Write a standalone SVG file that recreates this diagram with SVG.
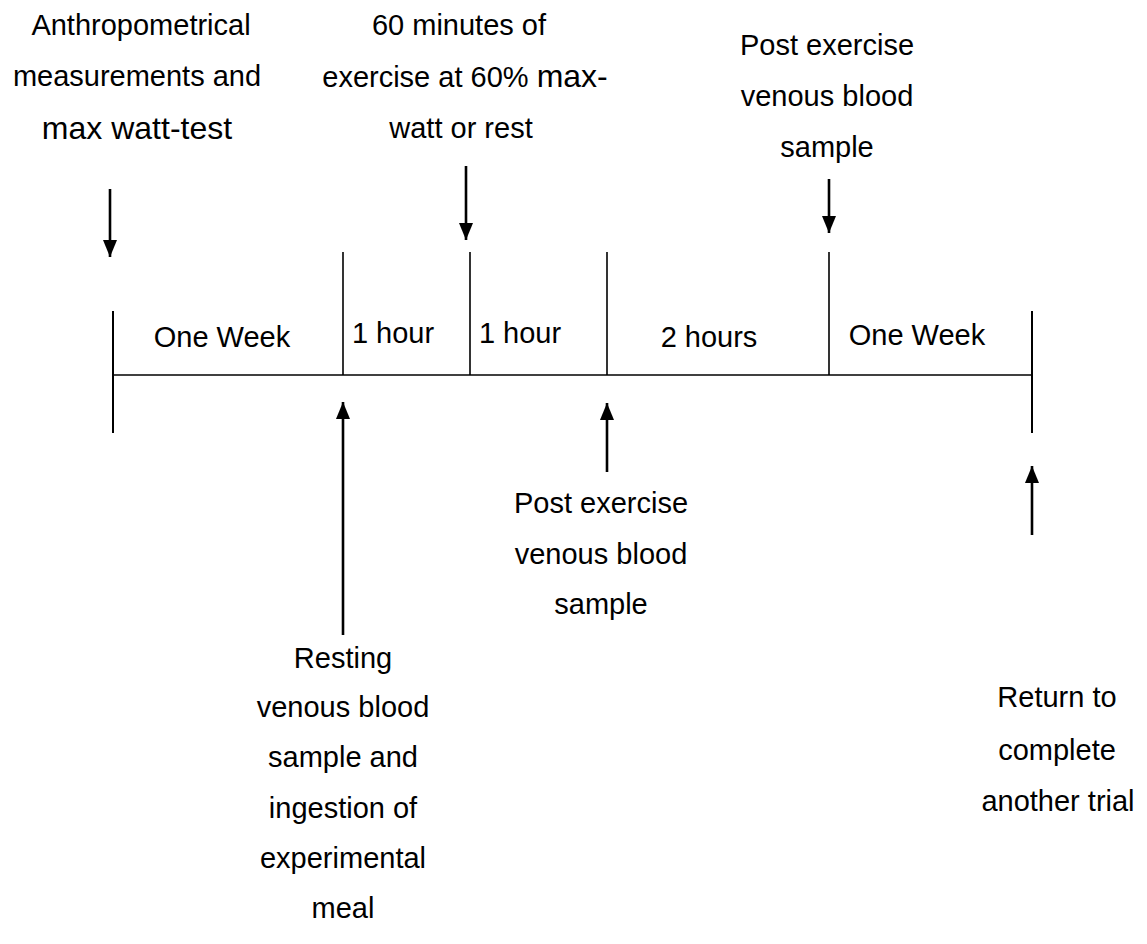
<svg xmlns="http://www.w3.org/2000/svg" width="1147" height="944" viewBox="0 0 1147 944">
<style>
text{font-family:"Liberation Sans",Arial,sans-serif;font-size:29px;fill:#000;text-anchor:middle}
.big{font-size:32px}
.axis{stroke:#000;stroke-width:1.6;fill:none}
.end{stroke:#000;stroke-width:2;fill:none}
.arr{stroke:#000;stroke-width:2.6;fill:none;marker-end:url(#ah)}
</style>
<defs>
<marker id="ah" markerUnits="userSpaceOnUse" markerWidth="16" markerHeight="20" refX="17" refY="7" orient="auto">
<path d="M0,0 L17,7 L0,14 Z" fill="#000"/>
</marker>
</defs>
<rect width="1147" height="944" fill="#fff"/>
<g id="timeline">
<line class="axis" x1="113" y1="375" x2="1032" y2="375"/>
<line class="end" x1="113" y1="311" x2="113" y2="433"/>
<line class="end" x1="1032" y1="311" x2="1032" y2="433"/>
<line class="axis" x1="343" y1="252" x2="343" y2="375"/>
<line class="axis" x1="470" y1="252" x2="470" y2="375"/>
<line class="axis" x1="607" y1="252" x2="607" y2="375"/>
<line class="axis" x1="829" y1="252" x2="829" y2="375"/>
</g>
<g id="periods">
<text x="222" y="347">One Week</text>
<text x="393" y="343">1 hour</text>
<text x="520" y="343">1 hour</text>
<text x="709" y="347">2 hours</text>
<text x="917" y="345">One Week</text>
</g>
<g id="connectors">
<line class="arr" x1="110" y1="189" x2="110" y2="257"/>
<line class="arr" x1="466" y1="166" x2="466" y2="240"/>
<line class="arr" x1="829" y1="179" x2="829" y2="233"/>
<line class="arr" x1="343" y1="635" x2="343" y2="402"/>
<line class="arr" x1="607" y1="472" x2="607" y2="403"/>
<line class="arr" x1="1032" y1="535" x2="1032" y2="466"/>
</g>
<g id="node-anthropometrical">
<text x="141" y="35">Anthropometrical</text>
<text x="137" y="86">measurements and</text>
<text class="big" x="137" y="139">max watt-test</text>
</g>
<g id="node-exercise">
<text x="459" y="35">60 minutes of</text>
<text x="465" y="87">exercise at 60% <tspan class="big">max-</tspan></text>
<text x="461" y="138">watt or rest</text>
</g>
<g id="node-post-top">
<text x="827" y="55">Post exercise</text>
<text x="827" y="106">venous blood</text>
<text x="827" y="157">sample</text>
</g>
<g id="node-resting">
<text x="343" y="668">Resting</text>
<text x="343" y="717">venous blood</text>
<text x="343" y="767">sample and</text>
<text x="343" y="818">ingestion of</text>
<text x="343" y="868">experimental</text>
<text x="343" y="918">meal</text>
</g>
<g id="node-post-bottom">
<text x="601" y="513">Post exercise</text>
<text x="601" y="564">venous blood</text>
<text x="601" y="614">sample</text>
</g>
<g id="node-return">
<text x="1057" y="707">Return to</text>
<text x="1057" y="760">complete</text>
<text x="1058" y="811">another trial</text>
</g>
</svg>
